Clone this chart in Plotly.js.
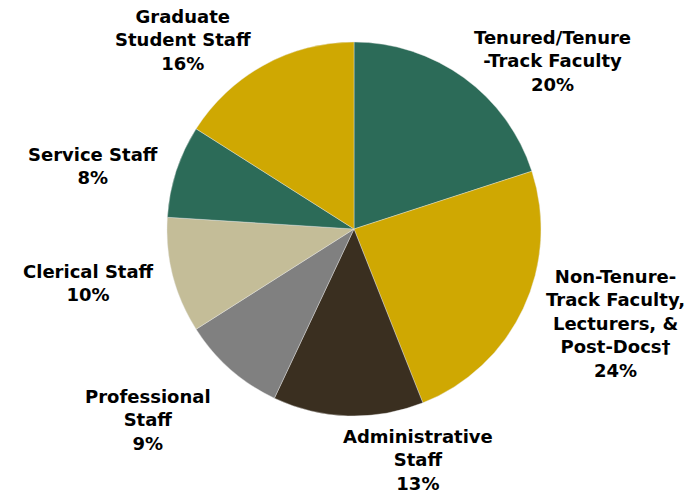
<!DOCTYPE html>
<html>
<head>
<meta charset="utf-8">
<script src="https://cdn.plot.ly/plotly-3.0.1.min.js"></script>
<style>html,body{margin:0;padding:0;background:#fff;}#chart{width:696px;height:494px;}</style>
</head>
<body>
<div id="chart"></div>
<script>
const categories = [
  "Tenured/Tenure<br>-Track Faculty",
  "Non-Tenure-<br>Track Faculty,<br>Lecturers, &<br>Post-Docs†",
  "Administrative<br>Staff",
  "Professional<br>Staff",
  "Clerical Staff",
  "Service Staff",
  "Graduate<br>Student Staff"
];
const values = [20, 24, 13, 9, 10, 8, 16];
const colors = ["#2c6b58", "#cfa802", "#3a2f20", "#808080", "#c4bd98", "#2c6b58", "#cfa802"];
// label anchor positions (pixels in 696x494 canvas)
const labelX = [552, 615, 418, 148, 88, 93, 183];
const labelY = [61, 323, 460, 420, 283, 166, 40];

const W = 696, H = 494;
const cx = 354, cy = 229, r = 187;

const annotations = categories.map((c, i) => ({
  text: c + "<br>" + values[i] + "%",
  x: labelX[i] / W, y: 1 - labelY[i] / H,
  xref: "paper", yref: "paper",
  xanchor: "center", yanchor: "middle",
  align: "center", showarrow: false,
  font: {family: "DejaVu Sans, Verdana, sans-serif", size: 18, color: "#000", weight: "bold"}
}));

const data = [{
  type: "pie",
  values: values,
  labels: categories,
  marker: {colors: colors, line: {color: "#e8e8e8", width: 0.4}},
  sort: false,
  direction: "clockwise",
  rotation: 0,
  textinfo: "none",
  hoverinfo: "label+percent",
  domain: {x: [(cx - r) / W, (cx + r) / W], y: [1 - (cy + r) / H, 1 - (cy - r) / H]}
}];

const layout = {
  width: W, height: H,
  margin: {l: 0, r: 0, t: 0, b: 0},
  showlegend: false,
  paper_bgcolor: "#ffffff",
  annotations: annotations
};

Plotly.newPlot("chart", data, layout, {displayModeBar: false, staticPlot: true});
</script>
</body>
</html>
